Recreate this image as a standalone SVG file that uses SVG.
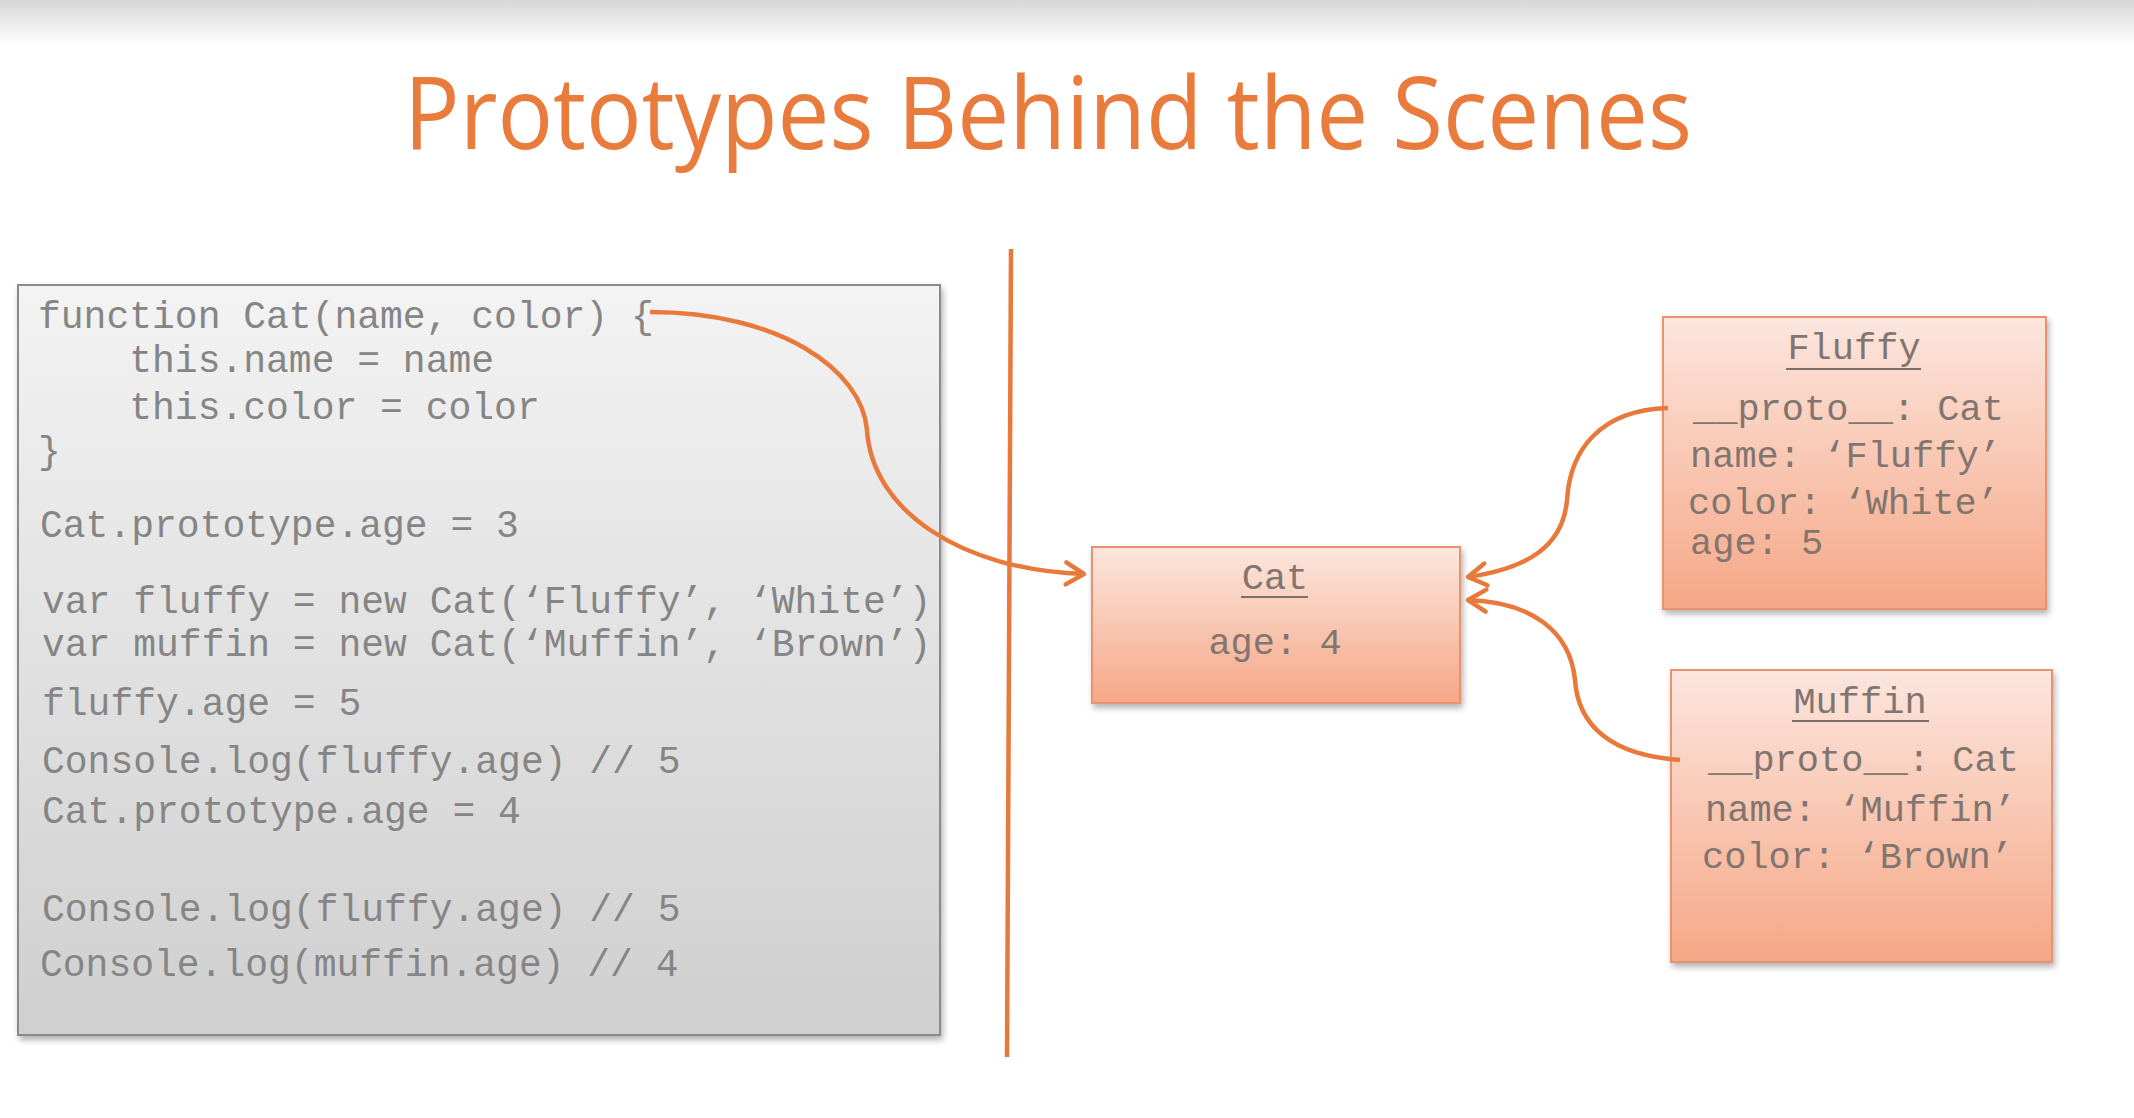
<svg xmlns="http://www.w3.org/2000/svg" width="2134" height="1118" viewBox="0 0 2134 1118">
<defs>
<linearGradient id="topband" x1="0" y1="0" x2="0" y2="1"><stop offset="0" stop-color="#d6d6d6"/><stop offset="1" stop-color="#ffffff"/></linearGradient>
<linearGradient id="codebg" x1="0" y1="0" x2="0" y2="1"><stop offset="0" stop-color="#f3f3f3"/><stop offset="1" stop-color="#cfcfcf"/></linearGradient>
<linearGradient id="boxbg" x1="0" y1="0" x2="0" y2="1"><stop offset="0" stop-color="#fce6de"/><stop offset="1" stop-color="#f5a786"/></linearGradient>
<filter id="shadow" x="-5%" y="-5%" width="115%" height="115%"><feDropShadow dx="2" dy="4" stdDeviation="3" flood-color="#000" flood-opacity="0.3"/></filter>
<marker id="arrow" markerUnits="userSpaceOnUse" markerWidth="30" markerHeight="30" viewBox="0 0 30 30" refX="26" refY="15" orient="auto">
<path d="M8,4 L26,15 L8,26" fill="none" stroke="#e8793a" stroke-width="4.5" stroke-linecap="round" stroke-linejoin="round"/>
</marker>
<style>
.code{font-family:"Liberation Mono","Courier New",monospace;font-size:38px;fill:#858585}
.btxt{font-family:"Liberation Mono","Courier New",monospace;font-size:37px;fill:#82756f}
.box{fill:url(#boxbg);stroke:#e89270;stroke-width:2;filter:url(#shadow)}
.ul{stroke:#7a6e68;stroke-width:2}
.conn{fill:none;stroke:#e8793a;stroke-width:4.5}
</style>
</defs>
<rect x="0" y="0" width="2134" height="1118" fill="#ffffff"/>
<rect x="0" y="0" width="2134" height="44" fill="url(#topband)"/>
<text x="1048" y="149" text-anchor="middle" font-family="Open Sans, sans-serif" font-size="100" fill="#e97b3c" textLength="1288" lengthAdjust="spacingAndGlyphs">Prototypes Behind the Scenes</text>

<g id="code">
<rect x="18" y="285" width="922" height="750" fill="url(#codebg)" stroke="#8a8a8a" stroke-width="2" filter="url(#shadow)"/>
<text class="code" x="38" y="328" xml:space="preserve">function Cat(name, color) {</text>
<text class="code" x="38" y="372" xml:space="preserve">    this.name = name</text>
<text class="code" x="38" y="419" xml:space="preserve">    this.color = color</text>
<text class="code" x="38" y="463">}</text>
<text class="code" x="40" y="537">Cat.prototype.age = 3</text>
<text class="code" x="42" y="613">var fluffy = new Cat(‘Fluffy’, ‘White’)</text>
<text class="code" x="42" y="656">var muffin = new Cat(‘Muffin’, ‘Brown’)</text>
<text class="code" x="42" y="715">fluffy.age = 5</text>
<text class="code" x="42" y="773">Console.log(fluffy.age) // 5</text>
<text class="code" x="42" y="823">Cat.prototype.age = 4</text>
<text class="code" x="42" y="921">Console.log(fluffy.age) // 5</text>
<text class="code" x="40" y="976">Console.log(muffin.age) // 4</text>
</g>

<g id="divider">
<line x1="1011" y1="249" x2="1007" y2="1057" stroke="#e8793a" stroke-width="4.5"/>
</g>

<g id="cat">
<rect class="box" x="1092" y="547" width="368" height="156"/>
<text class="btxt" x="1275" y="589" text-anchor="middle">Cat</text>
<line class="ul" x1="1241" y1="597" x2="1308" y2="597"/>
<text class="btxt" x="1275" y="654" text-anchor="middle">age: 4</text>
</g>

<g id="fluffy">
<rect class="box" x="1663" y="317" width="383" height="292"/>
<text class="btxt" x="1854" y="359" text-anchor="middle">Fluffy</text>
<line class="ul" x1="1786" y1="369" x2="1921" y2="369"/>
<text class="btxt" x="1693" y="420">__proto__: Cat</text>
<text class="btxt" x="1690" y="467">name: ‘Fluffy’</text>
<text class="btxt" x="1688" y="514">color: ‘White’</text>
<text class="btxt" x="1690" y="554">age: 5</text>
</g>

<g id="muffin">
<rect class="box" x="1671" y="670" width="381" height="292"/>
<text class="btxt" x="1860" y="713" text-anchor="middle">Muffin</text>
<line class="ul" x1="1792" y1="721" x2="1929" y2="721"/>
<text class="btxt" x="1708" y="771">__proto__: Cat</text>
<text class="btxt" x="1705" y="821">name: ‘Muffin’</text>
<text class="btxt" x="1702" y="868">color: ‘Brown’</text>
</g>

<g id="connectors">
<path class="conn" d="M650,312 C780,312 862,370 867,430 C872,510 960,570 1084,574" marker-end="url(#arrow)"/>
<path class="conn" d="M1668,408 C1600,410 1570,450 1567,500 C1563,545 1530,568 1468,577" marker-end="url(#arrow)"/>
<path class="conn" d="M1680,760 C1610,755 1578,725 1575,680 C1570,630 1530,602 1468,600" marker-end="url(#arrow)"/>
</g>
</svg>
